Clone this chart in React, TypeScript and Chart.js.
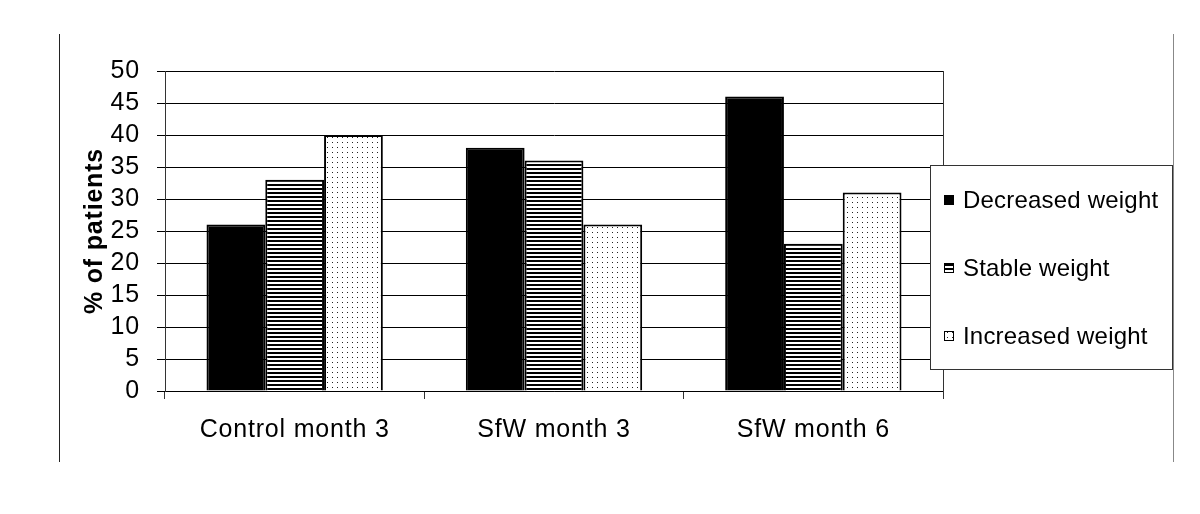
import React, { useEffect, useRef } from 'react';
import { Chart, registerables } from 'chart.js';

Chart.register(...registerables);

const categories = ['Control month 3', 'SfW month 3', 'SfW month 6'];
const seriesNames = ['Decreased weight', 'Stable weight', 'Increased weight'];
const decreased = [26, 38, 46];
const stable = [33, 36, 23];
const increased = [40, 26, 31];
const yMin = 0;
const yMax = 50;
const yStep = 5;
const yTitle = '% of patients';

const FONT = '"Liberation Sans", Arial, Helvetica, sans-serif';
const AXIS_SPACING = '0.8px';

function makeStripes(): CanvasPattern | string {
  const c = document.createElement('canvas');
  c.width = 4;
  c.height = 4;
  const g = c.getContext('2d');
  if (!g) return '#888';
  g.fillStyle = '#fff';
  g.fillRect(0, 0, 4, 4);
  g.fillStyle = '#000';
  g.fillRect(0, 0, 4, 2);
  return g.createPattern(c, 'repeat') || '#888';
}

function makeDots(): CanvasPattern | string {
  const c = document.createElement('canvas');
  c.width = 5;
  c.height = 5;
  const g = c.getContext('2d');
  if (!g) return '#eee';
  g.fillStyle = '#fff';
  g.fillRect(0, 0, 5, 5);
  g.fillStyle = '#222';
  g.fillRect(2, 2, 1, 1);
  return g.createPattern(c, 'repeat') || '#eee';
}

const spacingPlugin = {
  id: 'spacing',
  beforeUpdate(chart: any) {
    chart.ctx.letterSpacing = AXIS_SPACING;
  },
  beforeDraw(chart: any) {
    const ctx = chart.ctx;
    ctx.letterSpacing = AXIS_SPACING;
    ctx.save();
    ctx.lineWidth = 1;
    ctx.strokeStyle = '#222';
    ctx.beginPath();
    ctx.moveTo(59.5, 34);
    ctx.lineTo(59.5, 462);
    ctx.stroke();
    ctx.strokeStyle = '#888';
    ctx.beginPath();
    ctx.moveTo(1173.5, 34);
    ctx.lineTo(1173.5, 462);
    ctx.stroke();
    ctx.restore();
  },
};

const boxLegendPlugin = {
  id: 'boxLegend',
  afterDraw(chart: any) {
    const ctx = chart.ctx as CanvasRenderingContext2D;
    const ca = chart.chartArea;
    const x0 = ca.right - 13;
    const y0 = ca.top + 94;
    const w = 243;
    const h = 205;
    ctx.save();
    ctx.fillStyle = '#fff';
    ctx.fillRect(x0, y0, w, h);
    ctx.strokeStyle = '#333';
    ctx.lineWidth = 1;
    ctx.strokeRect(x0 + 0.5, y0 + 0.5, w - 1, h - 1);
    (ctx as any).letterSpacing = '0.2px';
    chart.data.datasets.forEach((ds: any, i: number) => {
      const cy = y0 + 35 + i * 68;
      const mx = x0 + 14;
      ctx.fillStyle = ds.backgroundColor;
      ctx.fillRect(mx, cy - 5, 10, 10);
      ctx.strokeStyle = '#000';
      ctx.lineWidth = 1;
      ctx.strokeRect(mx + 0.5, cy - 4.5, 9, 9);
      ctx.fillStyle = '#000';
      ctx.font = `24px ${FONT}`;
      ctx.textBaseline = 'middle';
      ctx.textAlign = 'left';
      ctx.fillText(ds.label, x0 + 33, cy + 1);
    });
    ctx.restore();
  },
};

export default function App() {
  const ref = useRef<HTMLCanvasElement>(null);

  useEffect(() => {
    if (!ref.current) return;
    const stripes = makeStripes();
    const dots = makeDots();
    const chart = new Chart(ref.current, {
      type: 'bar',
      data: {
        labels: categories,
        datasets: [
          {
            label: seriesNames[0],
            data: decreased,
            backgroundColor: '#000',
            borderColor: '#000',
            borderWidth: 2,
          },
          {
            label: seriesNames[1],
            data: stable,
            backgroundColor: stripes as any,
            borderColor: '#000',
            borderWidth: 2,
          },
          {
            label: seriesNames[2],
            data: increased,
            backgroundColor: dots as any,
            borderColor: '#000',
            borderWidth: 2,
          },
        ],
      },
      options: {
        responsive: false,
        animation: false,
        devicePixelRatio: 1,
        layout: { padding: { left: 70, right: 257, top: 71, bottom: 0 } },
        datasets: {
          bar: { categoryPercentage: 0.68, barPercentage: 1 },
        },
        plugins: {
          legend: { display: false },
          tooltip: { enabled: false },
          title: { display: false },
        },
        scales: {
          x: {
            position: 'bottom',
            grid: {
              display: true,
              drawOnChartArea: false,
              offset: true,
              tickLength: 8,
              color: '#333',
            },
            border: { display: true, color: '#000', width: 1 },
            ticks: {
              color: '#000',
              font: { family: FONT, size: 25 },
              padding: 16,
              maxRotation: 0,
              autoSkip: false,
            },
            afterFit: (s: any) => {
              s.height = 123;
            },
          },
          y: {
            position: 'left',
            min: yMin,
            max: yMax,
            ticks: {
              stepSize: yStep,
              color: '#000',
              font: { family: FONT, size: 25 },
              padding: 17,
              autoSkip: false,
            },
            grid: {
              color: '#000',
              tickLength: 8,
              lineWidth: 1,
            },
            border: { display: true, color: '#333', width: 1 },
            title: {
              display: true,
              text: yTitle,
              color: '#000',
              font: { family: FONT, size: 25, weight: 'bold' },
              padding: { top: 10, bottom: 0 },
            },
            afterFit: (s: any) => {
              s.width = 95;
            },
          },
          y2: {
            position: 'right',
            min: yMin,
            max: yMax,
            ticks: { display: false },
            grid: { drawOnChartArea: false, drawTicks: false, tickLength: 0 },
            border: { display: true, color: '#333', width: 1 },
            afterFit: (s: any) => {
              s.width = 0;
            },
          },
        },
      },
      plugins: [spacingPlugin, boxLegendPlugin],
    });
    return () => chart.destroy();
  }, []);

  return (
    <div style={{ position: 'fixed', left: 0, top: 0, width: 1200, height: 514, background: '#fff' }}>
      <canvas ref={ref} width={1200} height={514} style={{ display: 'block' }} />
    </div>
  );
}
